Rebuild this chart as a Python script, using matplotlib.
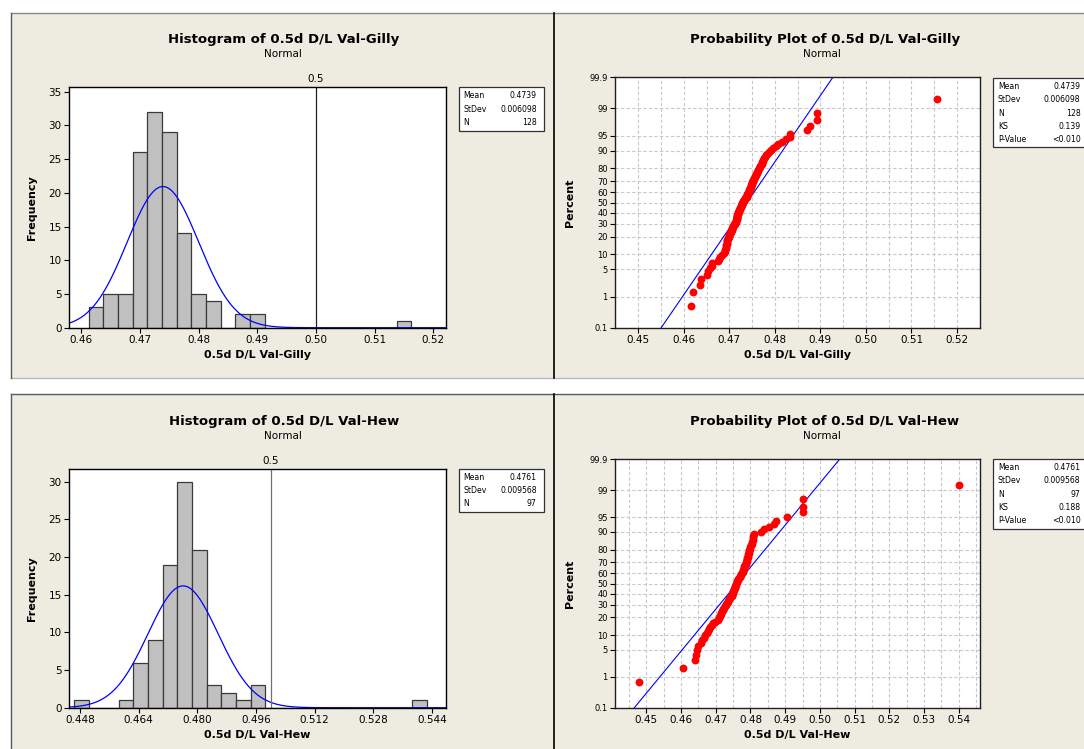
import statistics
import numpy as np
import matplotlib
matplotlib.use("Agg")
import matplotlib.pyplot as plt
from matplotlib.patches import Rectangle
from matplotlib.lines import Line2D

# ---- data ----
gilly_name = "0.5d D/L Val-Gilly"
gilly_vals = [
    0.4615, 0.4621, 0.4636,
    0.4638, 0.4652, 0.4654, 0.4657, 0.4661,
    0.4663, 0.4675, 0.4677, 0.4680, 0.4684,
    0.4689, 0.4690, 0.4691, 0.4692, 0.4693, 0.4693, 0.4694, 0.4695, 0.4695, 0.4696,
    0.4697, 0.4698, 0.4699, 0.4700, 0.4701, 0.4702, 0.4703, 0.4704, 0.4705, 0.4706,
    0.4707, 0.4708, 0.4709, 0.4710, 0.4711, 0.4712,
    0.4713, 0.4714, 0.4714, 0.4715, 0.4716, 0.4716, 0.4717, 0.4717, 0.4718, 0.4718,
    0.4719, 0.4719, 0.4720, 0.4721, 0.4721, 0.4722, 0.4723, 0.4724, 0.4724, 0.4725,
    0.4726, 0.4727, 0.4727, 0.4728, 0.4729, 0.4730, 0.4731, 0.4732, 0.4733, 0.4734,
    0.4735, 0.4736,
    0.4738, 0.4739, 0.4740, 0.4740, 0.4741, 0.4742, 0.4743, 0.4743, 0.4744, 0.4745,
    0.4745, 0.4746, 0.4747, 0.4747, 0.4748, 0.4749, 0.4750, 0.4750, 0.4751, 0.4752,
    0.4753, 0.4754, 0.4755, 0.4756, 0.4757, 0.4758, 0.4759, 0.4760, 0.4761,
    0.4763, 0.4764, 0.4765, 0.4767, 0.4768, 0.4770, 0.4771, 0.4772, 0.4774, 0.4775,
    0.4777, 0.4778, 0.4780, 0.4782,
    0.4788, 0.4792, 0.4797, 0.4802, 0.4808,
    0.4816, 0.4824, 0.4833, 0.4834,
    0.4871, 0.4878, 0.4892, 0.4893,
    0.5156,
]
gilly_stats = [("Mean", "0.4739"), ("StDev", "0.006098"), ("N", "128")]
gilly_ks = [("KS", "0.139"), ("P-Value", "<0.010")]
gilly_mean, gilly_sd = 0.4739, 0.006098

hew_name = "0.5d D/L Val-Hew"
hew_vals = [
    0.4478, 0.4606,
    0.4641, 0.4642, 0.4647, 0.4650, 0.4657, 0.4660,
    0.4666, 0.4670, 0.4674, 0.4677, 0.4680, 0.4684, 0.4688, 0.4692, 0.4697,
    0.4706, 0.4708, 0.4710, 0.4712, 0.4714, 0.4716, 0.4718, 0.4720, 0.4722, 0.4724,
    0.4726, 0.4728, 0.4730, 0.4732, 0.4734, 0.4736, 0.4738, 0.4740, 0.4742,
    0.4746, 0.4747, 0.4748, 0.4749, 0.4750, 0.4751, 0.4752, 0.4753, 0.4754, 0.4755,
    0.4756, 0.4757, 0.4758, 0.4760, 0.4761, 0.4763, 0.4765, 0.4767, 0.4769, 0.4771,
    0.4772, 0.4774, 0.4775, 0.4777, 0.4778, 0.4779, 0.4780, 0.4781, 0.4782, 0.4784,
    0.4786, 0.4787, 0.4788, 0.4789, 0.4790, 0.4791, 0.4792, 0.4793, 0.4794, 0.4795,
    0.4796, 0.4797, 0.4798, 0.4800, 0.4801, 0.4803, 0.4804, 0.4806, 0.4807, 0.4808,
    0.4810,
    0.4830, 0.4838, 0.4852, 0.4868, 0.4873, 0.4906, 0.4950, 0.4951, 0.4952,
    0.5401,
]
hew_stats = [("Mean", "0.4761"), ("StDev", "0.009568"), ("N", "97")]
hew_ks = [("KS", "0.188"), ("P-Value", "<0.010")]
hew_mean, hew_sd = 0.4761, 0.009568

pct_ticks = [0.1, 1, 5, 10, 20, 30, 40, 50, 60, 70, 80, 90, 95, 99, 99.9]
ref_value = 0.5

# ---- layout helpers (pixel coords, origin top-left) ----
W, H = 1084, 749
BG = "#EEEBE1"
nd = statistics.NormalDist()
TXT = ["DejaVu Sans"]
BOLD = ["DejaVu Sans"]

fig = plt.figure(figsize=(W / 100, H / 100), dpi=100)
fig.patch.set_facecolor("white")


def fx(x):
    return x / W


def fy(y):
    return 1 - y / H


def add_axes(x0, y0, x1, y1):
    ax = fig.add_axes([fx(x0), fy(y1), (x1 - x0) / W, (y1 - y0) / H])
    ax.set_zorder(2)
    return ax


def hline(x0, x1, y, c, lw=1.0):
    fig.add_artist(Line2D([fx(x0), fx(x1)], [fy(y), fy(y)], color=c, lw=lw,
                          transform=fig.transFigure, zorder=-5))


def vline(x, y0, y1, c, lw=1.0):
    fig.add_artist(Line2D([fx(x), fx(x)], [fy(y0), fy(y1)], color=c, lw=lw,
                          transform=fig.transFigure, zorder=-5))


def stat_box(x0, y0, x1, y1, rows, lx, rx, ry0, dy):
    fig.add_artist(Rectangle((fx(x0), fy(y1)), (x1 - x0) / W, (y1 - y0) / H,
                             facecolor="white", edgecolor="#303030", lw=0.9,
                             transform=fig.transFigure, zorder=5))
    for i, (k, v) in enumerate(rows):
        y = ry0 + i * dy
        fig.text(fx(lx), fy(y), k, ha="left", va="center", fontsize=5.6, family=TXT, zorder=6)
        fig.text(fx(rx), fy(y), v, ha="right", va="center", fontsize=5.6, family=TXT, zorder=6)


# panel backgrounds and borders
for (py0, py1, top_c, bot_c) in [(12.7, 377.7, "#8A8A8A", "#B8B8B8"),
                                 (394.3, 749, "#5A5A5A", None)]:
    fig.add_artist(Rectangle((fx(10.7), fy(py1)), (W - 10.7) / W, (py1 - py0) / H,
                             facecolor=BG, edgecolor="none", transform=fig.transFigure,
                             zorder=-10))
    hline(10.7, W, py0, top_c, 1.0)
    if bot_c:
        hline(10.7, W, py1, bot_c, 1.0)
    vline(10.7, py0, py1, "#5A5A5A", 1.0)
    vline(554, py0, py1, "black", 1.2)


def histogram(ax, vals, edges, mean, sd, xlim, ylim, xticks, xlabels, yticks, name, ref_c):
    ax.hist(vals, bins=edges, color="#C0C0C0", edgecolor="#3A3A3A", lw=0.9)
    bw = edges[1] - edges[0]
    xs = np.linspace(xlim[0], xlim[1], 500)
    ys = [len(vals) * bw * statistics.NormalDist(mean, sd).pdf(v) for v in xs]
    ax.plot(xs, ys, color="#0000FF", lw=0.9)
    ax.axvline(ref_value, color=ref_c, lw=0.9)
    ax.annotate("0.5", (ref_value, 1.0), xycoords=("data", "axes fraction"),
                xytext=(0, 2), textcoords="offset points", ha="center", va="bottom",
                fontsize=7.5, family=TXT)
    ax.set_xlim(*xlim)
    ax.set_ylim(*ylim)
    ax.set_xticks(xticks)
    ax.set_xticklabels(xlabels, fontsize=7.5, family=TXT)
    ax.set_yticks(yticks)
    ax.set_yticklabels([str(t) for t in yticks], fontsize=7.5, family=TXT)
    ax.tick_params(length=3.5, width=0.8, pad=2)
    ax.set_xlabel(name, fontsize=8, fontweight="bold", family=BOLD, labelpad=3)
    ax.set_ylabel("Frequency", fontsize=8, fontweight="bold", family=BOLD, labelpad=8)
    for s in ax.spines.values():
        s.set_linewidth(1.0)
        s.set_color("black")


def probplot(ax, vals, mean, sd, xlim, xticks, name):
    zmax = nd.inv_cdf(0.999)
    ax.set_ylim(-zmax, zmax)
    ax.set_xlim(*xlim)
    zt = [nd.inv_cdf(p / 100) for p in pct_ticks]
    ax.set_yticks(zt)
    ax.set_yticklabels([("%g" % p) for p in pct_ticks], fontsize=6, family=TXT)
    ax.set_xticks(xticks)
    ax.set_xticklabels(["%.2f" % t for t in xticks], fontsize=7.5, family=TXT)
    minor = [xticks[0] - 0.005] + [t + 0.005 for t in xticks]
    ax.set_xticks(minor, minor=True)
    ax.tick_params(axis="x", which="minor", length=0)
    ax.grid(True, which="both", color="#C8C8C8", lw=0.8, ls=(0, (3, 2)))
    ax.set_axisbelow(True)
    z_line = np.array([-zmax, zmax])
    ax.plot(mean + sd * z_line, z_line, color="#0000FF", lw=0.8)
    xs = sorted(vals)
    n = len(xs)
    zs = [nd.inv_cdf((i + 1 - 0.3) / (n + 0.4)) for i in range(n)]
    ax.scatter(xs, zs, s=32, color="#FF0000", zorder=3, linewidths=0, clip_on=False)
    ax.tick_params(length=3.5, width=0.8, pad=2)
    ax.set_xlabel(name, fontsize=8, fontweight="bold", family=BOLD, labelpad=3)
    ax.set_ylabel("Percent", fontsize=8, fontweight="bold", family=BOLD, labelpad=10)
    for s in ax.spines.values():
        s.set_linewidth(1.0)
        s.set_color("#202020")


# ---- top row: Gilly ----
ax1 = add_axes(69.4, 87, 445.5, 327.7)
histogram(ax1, gilly_vals, 0.46125 + 0.0025 * np.arange(25), gilly_mean, gilly_sd,
          (0.45795, 0.5221), (0, 35.7),
          [0.46, 0.47, 0.48, 0.49, 0.50, 0.51, 0.52],
          ["0.46", "0.47", "0.48", "0.49", "0.50", "0.51", "0.52"],
          [0, 5, 10, 15, 20, 25, 30, 35], gilly_name, "#202020")
fig.text(fx(284), fy(39), "Histogram of " + gilly_name, ha="center", va="center",
         fontsize=9.5, fontweight="bold", family=BOLD)
fig.text(fx(283), fy(54), "Normal", ha="center", va="center", fontsize=7.5, family=TXT)
stat_box(458.8, 87, 544, 131, gilly_stats, 463.7, 536.7, 95.7, 13.5)

ax2 = add_axes(615.4, 77.3, 979.8, 327.7)
probplot(ax2, gilly_vals, gilly_mean, gilly_sd, (0.44865, 0.52115),
         [0.45, 0.46, 0.47, 0.48, 0.49, 0.50, 0.51, 0.52], gilly_name)
fig.text(fx(825), fy(39), "Probability Plot of " + gilly_name, ha="center", va="center",
         fontsize=9.5, fontweight="bold", family=BOLD)
fig.text(fx(822), fy(54), "Normal", ha="center", va="center", fontsize=7.5, family=TXT)
stat_box(992.8, 78.3, 1090, 147.3, gilly_stats + gilly_ks, 997.9, 1080.6, 86.7, 13.25)

# ---- bottom row: Hew ----
ax3 = add_axes(69.4, 469, 445.5, 707.7)
histogram(ax3, hew_vals, 0.4465 + 0.004 * np.arange(25), hew_mean, hew_sd,
          (0.44511, 0.54765), (0, 31.7),
          [0.448, 0.464, 0.480, 0.496, 0.512, 0.528, 0.544],
          ["0.448", "0.464", "0.480", "0.496", "0.512", "0.528", "0.544"],
          [0, 5, 10, 15, 20, 25, 30], hew_name, "#707070")
fig.text(fx(284), fy(421), "Histogram of " + hew_name, ha="center", va="center",
         fontsize=9.5, fontweight="bold", family=BOLD)
fig.text(fx(283), fy(436), "Normal", ha="center", va="center", fontsize=7.5, family=TXT)
stat_box(458.8, 469, 544, 512, hew_stats, 463.7, 536.7, 477.3, 13.2)

ax4 = add_axes(615.4, 459.3, 979.8, 707.7)
probplot(ax4, hew_vals, hew_mean, hew_sd, (0.44107, 0.54608),
         [0.45, 0.46, 0.47, 0.48, 0.49, 0.50, 0.51, 0.52, 0.53, 0.54], hew_name)
fig.text(fx(825), fy(421), "Probability Plot of " + hew_name, ha="center", va="center",
         fontsize=9.5, fontweight="bold", family=BOLD)
fig.text(fx(822), fy(436), "Normal", ha="center", va="center", fontsize=7.5, family=TXT)
stat_box(992.8, 459.3, 1090, 528.7, hew_stats + hew_ks, 997.9, 1080.6, 467.7, 13.25)

fig.savefig("out.png", dpi=100, facecolor=fig.get_facecolor())
